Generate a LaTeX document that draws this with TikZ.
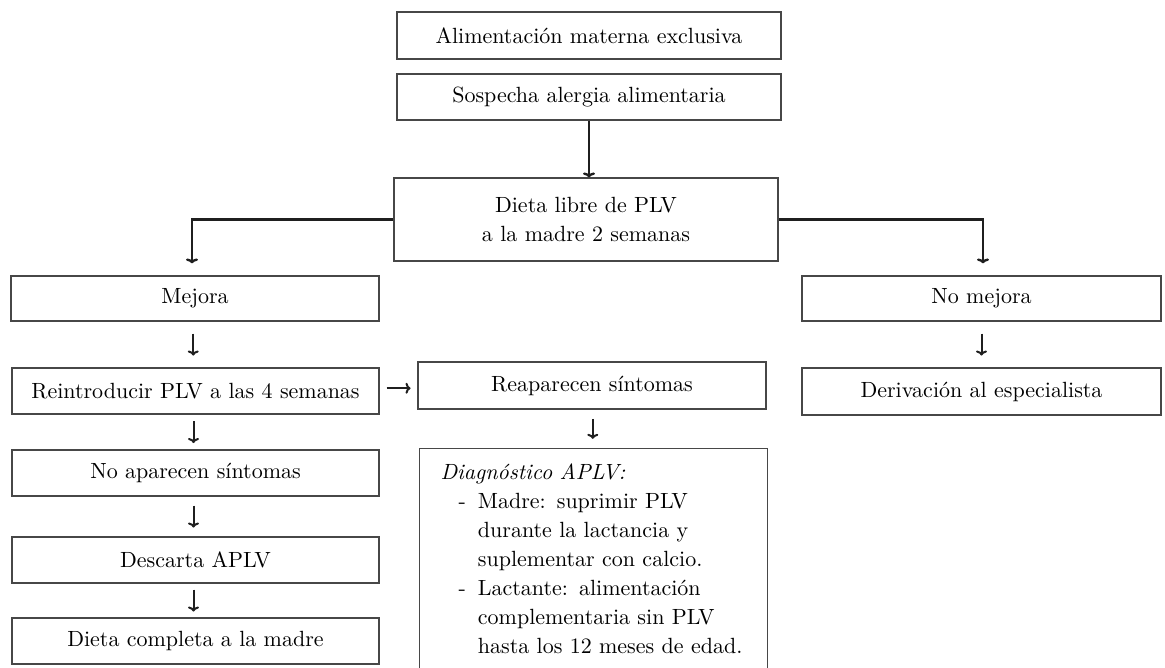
\documentclass[tikz,border=0pt]{standalone}
\usepackage{fontspec}
\setmainfont{lmroman10}[Extension=.otf, UprightFont=*-regular, ItalicFont=*-italic, BoldFont=*-bold, BoldItalicFont=*-bolditalic]
\usetikzlibrary{arrows.meta,calc}
\begin{document}
\begin{tikzpicture}[x=1pt,y=-1pt,
  box/.style={draw=black!72, line width=1.2pt, rectangle, inner sep=0pt, align=center,
    font=\fontsize{22}{29}\selectfont},
  conn/.style={line width=2.4pt, black!88},
  arr/.style={line width=2pt, black!88, -{To[length=5pt,width=11pt]}},
  barr/.style={conn, -{To[length=5pt,width=12pt]}}]
\useasboundingbox (0,0) rectangle (1165,667);
\clip (0,0) rectangle (1165,667);

\node[box, minimum width=384, minimum height=47] (b1) at (589,35.5) {Alimentación materna exclusiva};
\node[box, minimum width=384, minimum height=46] (b2) at (589,97) {Sospecha alergia alimentaria};
\node[box, minimum width=384, minimum height=83] (b3) at (586,219.5) {Dieta libre de PLV\\a la madre 2 semanas};
\node[box, minimum width=368, minimum height=45] (mejora) at (195,298.5) {Mejora};
\node[box, minimum width=359, minimum height=45] (nomejora) at (981.5,298.5) {No mejora};
\node[box, minimum width=367, minimum height=46] (reintro) at (195.5,391) {Reintroducir PLV a las 4 semanas};
\node[box, minimum width=348, minimum height=47] (reap) at (592,385.5) {Reaparecen síntomas};
\node[box, minimum width=359, minimum height=47] (deriv) at (981.5,391.5) {Derivación al especialista};
\node[box, minimum width=367, minimum height=46] (noap) at (195.5,473) {No aparecen síntomas};
\node[box, minimum width=367, minimum height=46] (descarta) at (195.5,560) {Descarta APLV};
\node[box, minimum width=367, minimum height=46] (dietac) at (195.5,641) {Dieta completa a la madre};
\node[box, anchor=north west, minimum width=348, inner xsep=21pt, inner ysep=11pt, align=left, text width=306pt] (diag) at (419,448)
 {\begin{tabular}{@{}l@{\hspace{12pt}}l@{}}
  \multicolumn{2}{@{}l@{}}{\textit{Diagnóstico APLV:}}\\
  \hspace*{18pt}- & Madre: suprimir PLV\\
   & durante la lactancia y\\
   & suplementar con calcio.\\
  \hspace*{18pt}- & Lactante: alimentación\\
   & complementaria sin PLV\\
   & hasta los 12 meses de edad.
 \end{tabular}};

% connectors
\draw[barr] (b2.south) -- (b2.south |- b3.north);
\draw[barr] (b3.west) -| ($(mejora.north)+(-3,-12)$);
\draw[barr] (b3.east) -| ($(nomejora.north)+(1.5,-12)$);
\draw[arr] ($(mejora.south)!0.5!(reintro.north)+(-2,-11)$) -- ($(mejora.south)!0.5!(reintro.north)+(-2,11)$);
\draw[arr] ($(reintro.south)!0.5!(noap.north)+(-2,-11)$) -- ($(reintro.south)!0.5!(noap.north)+(-2,11)$);
\draw[arr] ($(noap.south)!0.5!(descarta.north)+(-2,-11)$) -- ($(noap.south)!0.5!(descarta.north)+(-2,11)$);
\draw[arr] ($(descarta.south)!0.5!(dietac.north)+(-2,-11)$) -- ($(descarta.south)!0.5!(dietac.north)+(-2,11)$);
\draw[arr] ($(nomejora.south)!0.5!(deriv.north)+(0,-11)$) -- ($(nomejora.south)!0.5!(deriv.north)+(0,11)$);
\draw[arr] ($(reap.south)!0.5!(diag.north)+(0,-10)$) -- ($(reap.south)!0.5!(diag.north)+(0,10)$);
\draw[arr] ($(reintro.east)!0.5!(reap.west)+(-12,0)$) -- ($(reintro.east)!0.5!(reap.west)+(12,0)$);
\end{tikzpicture}
\end{document}
